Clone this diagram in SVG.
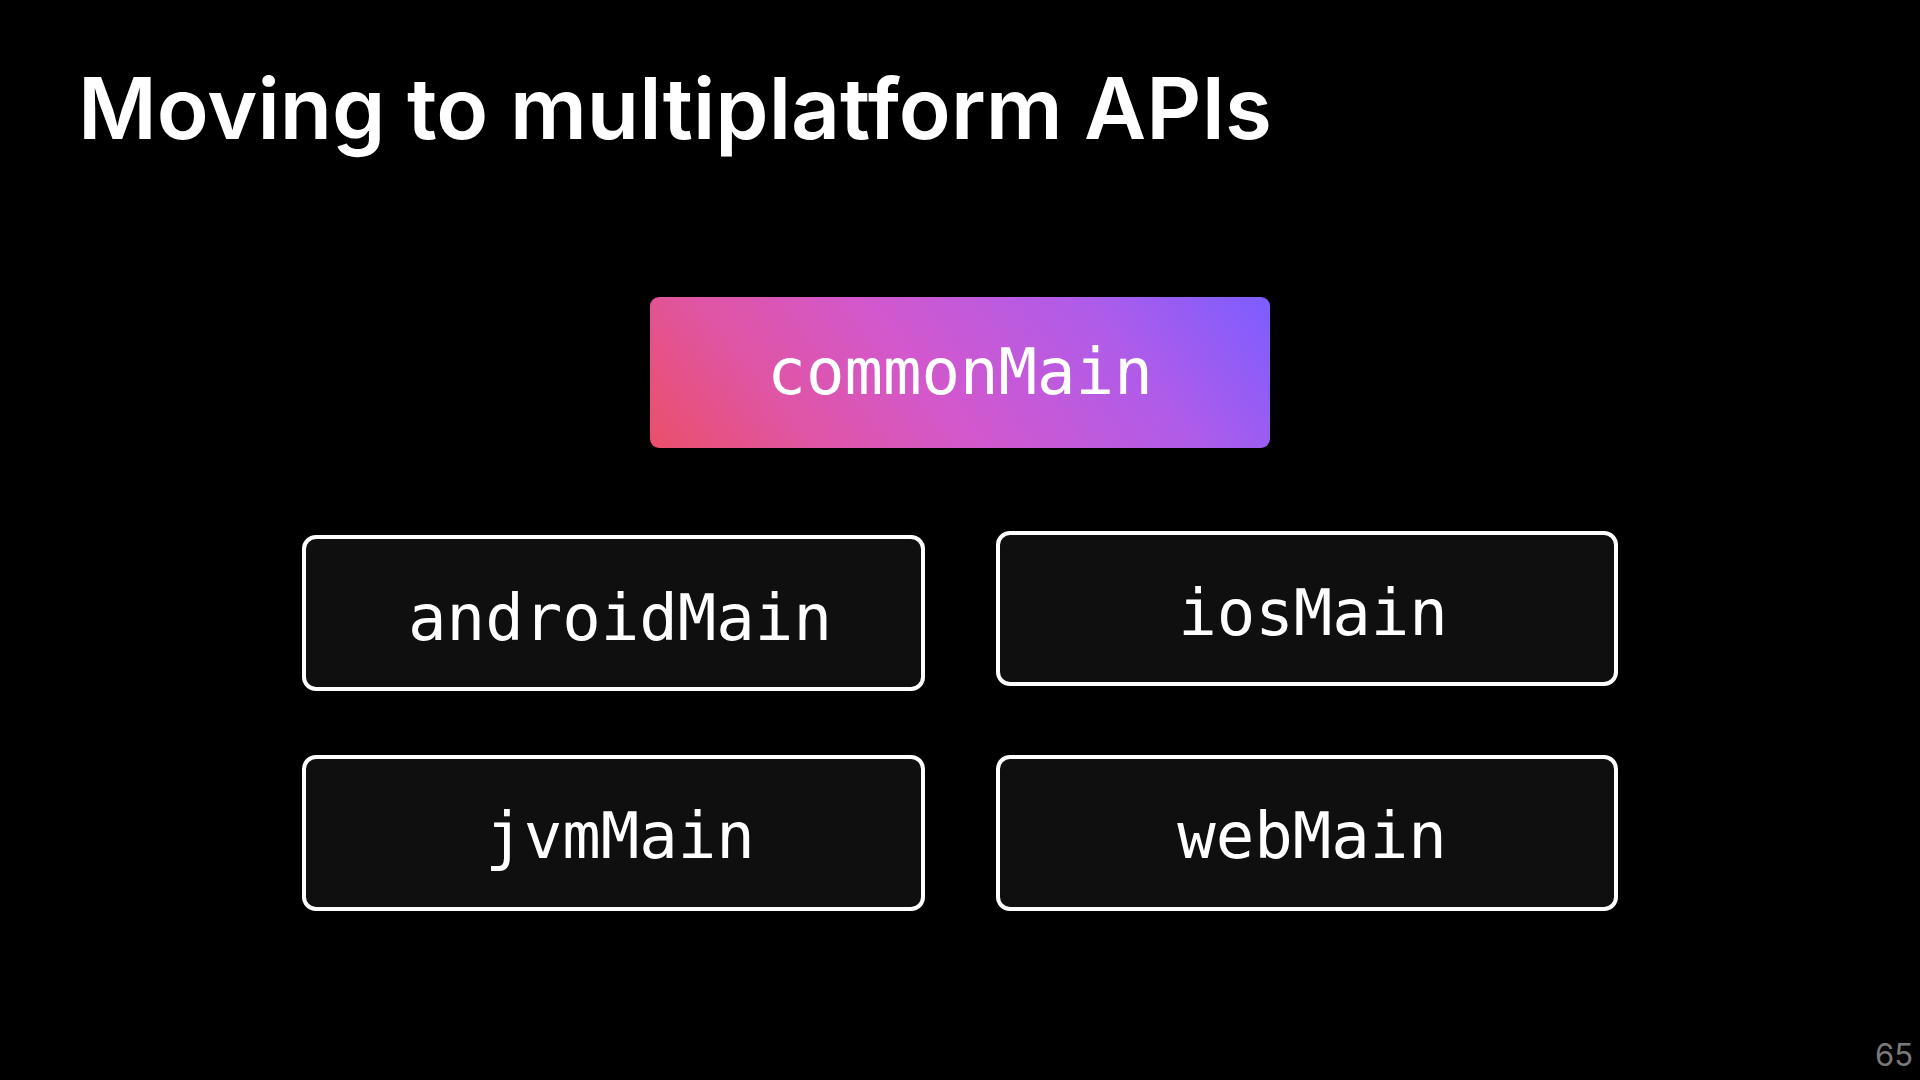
<svg xmlns="http://www.w3.org/2000/svg" width="1920" height="1080" viewBox="0 0 1920 1080">
  <defs>
    <linearGradient id="grad" x1="650" y1="448" x2="1103" y2="88" gradientUnits="userSpaceOnUse">
      <stop offset="0" stop-color="#ea4f69"/>
      <stop offset="0.22" stop-color="#e055a4"/>
      <stop offset="0.45" stop-color="#d258cd"/>
      <stop offset="0.75" stop-color="#ae5cea"/>
      <stop offset="1" stop-color="#7d5dff"/>
    </linearGradient>
    <style>
      .title { font-family: Inter, "Liberation Sans", sans-serif; font-weight: 600; font-size: 85px; fill: #ffffff; }
      .box { fill: #0f0f0f; stroke: #ffffff; stroke-width: 4; }
      .label { font-family: "DejaVu Sans Mono", "Liberation Mono", monospace; font-size: 64px; fill: #ffffff; text-anchor: middle; }
      .page { font-family: Inter, "Liberation Sans", sans-serif; font-size: 31px; fill: #7a7a7a; }
    </style>
  </defs>
  <rect x="0" y="0" width="1920" height="1080" fill="#000000"/>
  <text class="title" x="78" y="139" textLength="1194" lengthAdjust="spacingAndGlyphs">Moving to multiplatform APIs</text>

  <g id="connectors"></g>

  <g id="commonMain">
    <rect x="650" y="297" width="620" height="151" rx="9" fill="url(#grad)"/>
    <text class="label" x="960" y="394">commonMain</text>
  </g>
  <g id="androidMain">
    <rect class="box" x="304" y="537" width="619" height="152" rx="12"/>
    <text class="label" x="620" y="640">androidMain</text>
  </g>
  <g id="iosMain">
    <rect class="box" x="998" y="533" width="618" height="151" rx="12"/>
    <text class="label" x="1313" y="635">iosMain</text>
  </g>
  <g id="jvmMain">
    <rect class="box" x="304" y="757" width="619" height="152" rx="12"/>
    <text class="label" x="620" y="858">jvmMain</text>
  </g>
  <g id="webMain">
    <rect class="box" x="998" y="757" width="618" height="152" rx="12"/>
    <text class="label" x="1312" y="858">webMain</text>
  </g>
  <text class="page" x="1875" y="1066">65</text>
</svg>
